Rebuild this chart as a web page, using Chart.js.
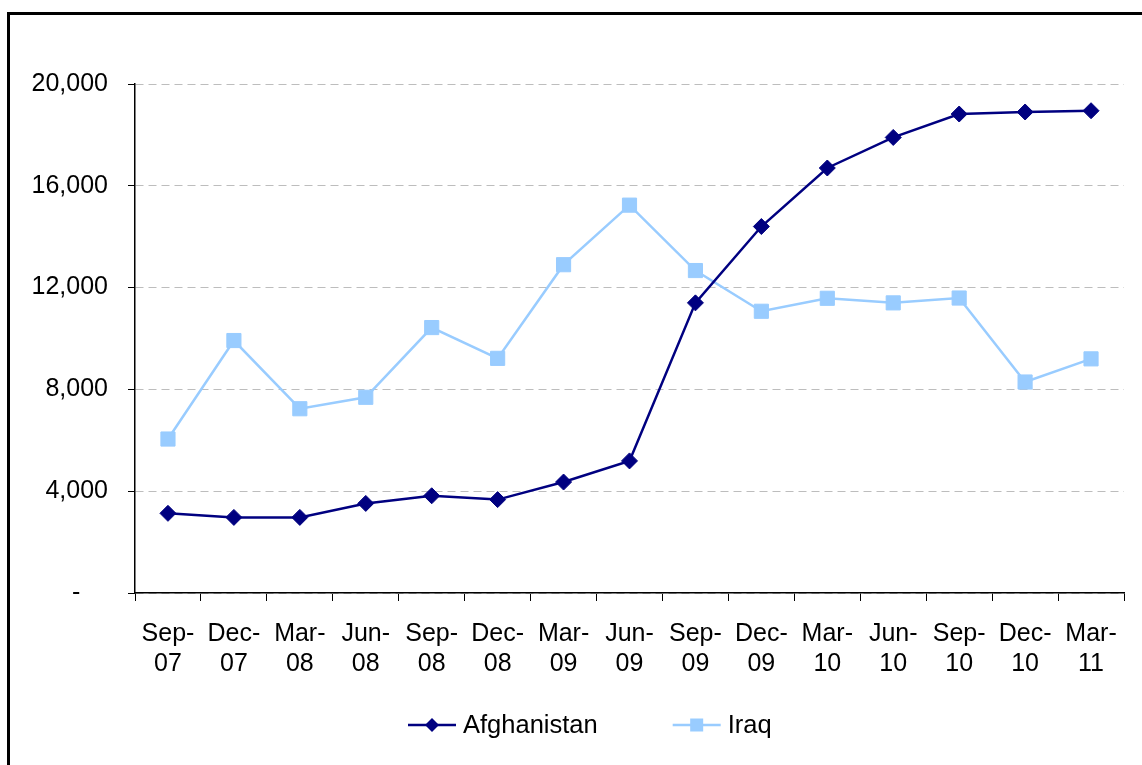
<!DOCTYPE html>
<html lang="en">
<head>
    <meta charset="UTF-8">
    <title>Afghanistan and Iraq</title>
    <script src="https://cdn.jsdelivr.net/npm/chart.js"></script>
    <style>
        html, body { margin: 0; padding: 0; background: #fff; overflow: hidden; }
        #frame {
            position: absolute; left: 7px; top: 12px;
            width: 1200px; height: 800px;
            border-top: 3px solid #000; border-left: 3px solid #000;
        }
        #wrap { position: absolute; left: 0; top: 0; width: 1142px; height: 765px; }
    </style>
</head>
<body>
    <div id="frame"></div>
    <div id="wrap"><canvas id="chart"></canvas></div>

    <script>
    // quarter labels
    const quarters = ["Sep-07", "Dec-07", "Mar-08", "Jun-08", "Sep-08", "Dec-08", "Mar-09", "Jun-09",
                      "Sep-09", "Dec-09", "Mar-10", "Jun-10", "Sep-10", "Dec-10", "Mar-11"];

    const afghanistan = [3130, 2970, 2970, 3520, 3820, 3670, 4360, 5190,
                         11400, 14400, 16700, 17900, 18820, 18900, 18950];

    const iraq = [6050, 9920, 7240, 7690, 10430, 9220, 12900, 15240,
                  12670, 11070, 11580, 11400, 11590, 8290, 9200];

    const yTicks = [0, 4000, 8000, 12000, 16000, 20000];

    const FONT = '"Liberation Sans", Arial, sans-serif';

    // legend drawn as line + marker, like the original
    const lineLegend = {
        id: "lineLegend",
        afterDraw(chart) {
            const ctx = chart.ctx;
            ctx.save();
            ctx.font = "25.5px " + FONT;
            ctx.textBaseline = "middle";
            const lineW = 48, textGap = 7, gap = 75;
            const items = chart.data.datasets.map(ds => ({
                ds: ds,
                w: lineW + textGap + ctx.measureText(ds.label).width
            }));
            let x = 408;
            const y = chart.height - 40;
            items.forEach(it => {
                const ds = it.ds;
                ctx.strokeStyle = ds.borderColor;
                ctx.lineWidth = ds.borderWidth;
                ctx.beginPath();
                ctx.moveTo(x, y);
                ctx.lineTo(x + lineW, y);
                ctx.stroke();
                const cx = x + lineW / 2;
                ctx.fillStyle = ds.pointBackgroundColor;
                ctx.beginPath();
                if (ds.pointStyle === "rectRot") {
                    const r = 7;
                    ctx.moveTo(cx, y - r); ctx.lineTo(cx + r, y);
                    ctx.lineTo(cx, y + r); ctx.lineTo(cx - r, y);
                    ctx.closePath();
                } else {
                    const s = 6.5;
                    ctx.rect(cx - s, y - s, 2 * s, 2 * s);
                }
                ctx.fill();
                ctx.fillStyle = "#000";
                ctx.fillText(ds.label, x + lineW + textGap, y + 1);
                x += it.w + gap;
            });
            ctx.restore();
        }
    };

    new Chart(document.getElementById("chart"), {
        type: "line",
        data: {
            labels: quarters,
            datasets: [
                {
                    label: "Afghanistan",
                    data: afghanistan,
                    borderColor: "#000080",
                    backgroundColor: "#000080",
                    pointBackgroundColor: "#000080",
                    pointBorderColor: "#000080",
                    borderWidth: 2.5,
                    pointStyle: "rectRot",
                    pointRadius: 8,
                    pointBorderWidth: 1,
                    tension: 0
                },
                {
                    label: "Iraq",
                    data: iraq,
                    borderColor: "#99ccff",
                    backgroundColor: "#99ccff",
                    pointBackgroundColor: "#99ccff",
                    pointBorderColor: "#99ccff",
                    borderWidth: 2.5,
                    pointStyle: "rect",
                    pointRadius: 10,
                    pointBorderWidth: 1,
                    tension: 0
                }
            ]
        },
        options: {
            responsive: true,
            maintainAspectRatio: false,
            animation: false,
            layout: { padding: { left: 0, right: 18, top: 84, bottom: 68 } },
            plugins: {
                legend: { display: false },
                tooltip: { enabled: false }
            },
            scales: {
                x: {
                    offset: true,
                    grid: {
                        offset: true,
                        drawOnChartArea: false,
                        tickLength: 8,
                        tickColor: "#000",
                        lineWidth: 1
                    },
                    border: { color: "#000", width: 1.5 },
                    ticks: {
                        color: "#000",
                        font: { family: FONT, size: 25, lineHeight: 1.2 },
                        padding: 18,
                        maxRotation: 0,
                        autoSkip: false,
                        callback: function (value) {
                            const lbl = this.getLabelForValue(value);
                            const i = lbl.indexOf("-");
                            return [lbl.slice(0, i + 1), lbl.slice(i + 1)];
                        }
                    }
                },
                y: {
                    min: 0,
                    max: 20000,
                    afterBuildTicks: function (scale) {
                        scale.ticks = yTicks.map(v => ({ value: v }));
                    },
                    afterFit: function (scale) {
                        scale.width = 135;
                    },
                    grid: {
                        color: "#bdbdbd",
                        lineWidth: 1,
                        tickLength: 7,
                        tickColor: "#000",
                        tickBorderDash: []
                    },
                    border: { color: "#000", width: 1.5, dash: [8, 5] },
                    ticks: {
                        color: "#000",
                        font: { family: FONT, size: 25 },
                        padding: 20,
                        callback: function (value) {
                            return value === 0 ? "-    " : value.toLocaleString("en-US");
                        }
                    }
                }
            }
        },
        plugins: [lineLegend]
    });
    </script>
</body>
</html>
